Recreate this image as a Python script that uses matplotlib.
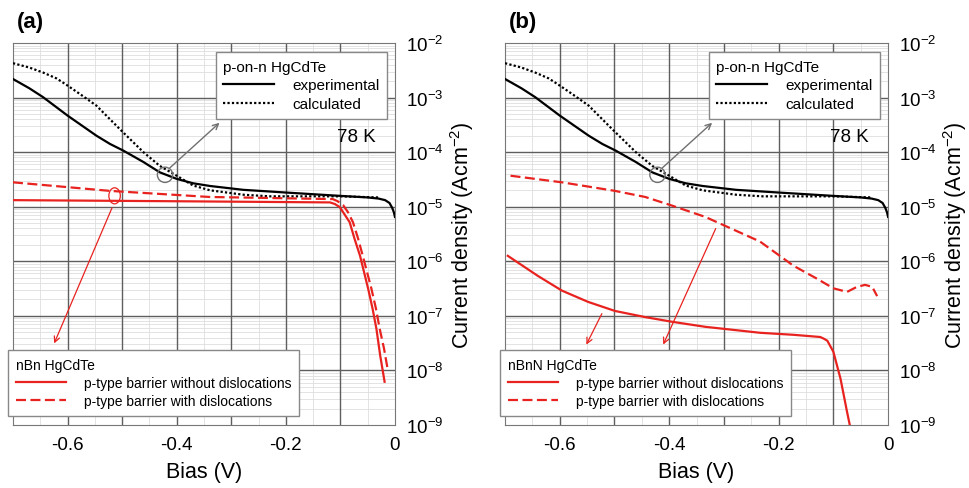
import matplotlib
matplotlib.use("Agg")
import matplotlib.pyplot as plt
from matplotlib.lines import Line2D
from matplotlib.patches import Ellipse
from matplotlib.ticker import FixedLocator, LogLocator, NullFormatter

plt.rcParams["font.family"] = ["Liberation Sans", "DejaVu Sans"]
plt.rcParams["mathtext.fontset"] = "custom"
plt.rcParams["mathtext.rm"] = "Liberation Sans"
plt.rcParams["mathtext.it"] = "Liberation Sans:italic"
plt.rcParams["mathtext.default"] = "regular"
plt.rcParams["axes.unicode_minus"] = False

RED = "#e8231f"
GRID = "#5e5e5e"

# p-on-n HgCdTe (same in both panels)
exp_bias = [-0.7, -0.67, -0.645, -0.6, -0.547, -0.522, -0.498, -0.461, -0.431, -0.4, -0.37,
            -0.339, -0.278, -0.229, -0.2, -0.1, -0.05, -0.03, -0.018, -0.01, -0.005, -0.002, 0.0]
exp_j = [2.19e-3, 1.48e-3, 1.02e-3, 4.68e-4, 2.0e-4, 1.41e-4, 1.07e-4, 6.6e-5, 4.27e-5, 3.24e-5, 2.69e-5,
         2.4e-5, 2.04e-5, 1.9e-5, 1.82e-5, 1.58e-5, 1.48e-5, 1.41e-5, 1.32e-5, 1.17e-5, 9.5e-6, 7.9e-6, 6.5e-6]

calc_bias = [-0.7, -0.67, -0.645, -0.62, -0.6, -0.575, -0.547, -0.504, -0.461, -0.431, -0.4,
             -0.37, -0.339, -0.278, -0.229, -0.1, -0.03]
calc_j = [4.27e-3, 3.55e-3, 2.88e-3, 2.24e-3, 1.66e-3, 1.12e-3, 7.1e-4, 2.63e-4, 1.0e-4, 5.6e-5, 3.7e-5,
          2.45e-5, 2.0e-5, 1.66e-5, 1.55e-5, 1.55e-5, 1.48e-5]

# (a) nBn HgCdTe
a_nodis_bias = [-0.7, -0.4, -0.119, -0.11, -0.101, -0.083, -0.074, -0.064, -0.049, -0.041,
                -0.034, -0.027, -0.019]
a_nodis_j = [1.32e-5, 1.26e-5, 1.2e-5, 1.12e-5, 9.8e-6, 5.2e-6, 2.57e-6, 1.26e-6, 3.1e-7, 1.35e-7,
             5.8e-8, 1.86e-8, 6.2e-9]

a_dis_bias = [-0.7, -0.522, -0.34, -0.114, -0.105, -0.095, -0.086, -0.077, -0.068, -0.059, -0.043,
              -0.035, -0.028, -0.02, -0.013]
a_dis_j = [2.8e-5, 1.95e-5, 1.51e-5, 1.38e-5, 1.26e-5, 1.07e-5, 7.9e-6, 5.2e-6, 2.7e-6, 1.26e-6, 3.1e-7,
           1.38e-7, 5.8e-8, 2.5e-8, 1.0e-8]

# (b) nBnN HgCdTe
b_nodis_bias = [-0.695, -0.64, -0.596, -0.548, -0.499, -0.444, -0.395, -0.334, -0.234, -0.173,
                -0.124, -0.117, -0.111, -0.1, -0.087, -0.075, -0.068]
b_nodis_j = [1.26e-6, 5.4e-7, 2.9e-7, 1.8e-7, 1.23e-7, 9.5e-8, 7.8e-8, 6.3e-8, 4.9e-8, 4.5e-8,
             4.1e-8, 3.8e-8, 3.5e-8, 2.2e-8, 7.1e-9, 1.74e-9, 8e-10]

b_dis_bias = [-0.69, -0.596, -0.499, -0.444, -0.395, -0.334, -0.234, -0.173, -0.13, -0.1,
              -0.075, -0.057, -0.042, -0.029, -0.02]
b_dis_j = [3.7e-5, 2.8e-5, 1.95e-5, 1.51e-5, 1.05e-5, 6.5e-6, 2.3e-6, 8.3e-7, 4.8e-7, 3.2e-7,
           2.75e-7, 3.4e-7, 3.7e-7, 3.4e-7, 2.3e-7]

x_major = [-0.7, -0.6, -0.5, -0.4, -0.3, -0.2, -0.1, 0.0]
x_labels = ["", "-0.6", "", "-0.4", "", "-0.2", "", "0"]
y_major = [1e-9, 1e-8, 1e-7, 1e-6, 1e-5, 1e-4, 1e-3, 1e-2]

panels = [
    ("(a)", "nBn HgCdTe", a_nodis_bias, a_nodis_j, a_dis_bias, a_dis_j),
    ("(b)", "nBnN HgCdTe", b_nodis_bias, b_nodis_j, b_dis_bias, b_dis_j),
]

fig = plt.figure(figsize=(9.69, 4.89), dpi=100)
positions = [[0.0134, 0.1288, 0.3942, 0.7812], [0.5212, 0.1288, 0.3953, 0.7812]]

for i, (tag, red_title, nb, nj, db, dj) in enumerate(panels):
    ax = fig.add_axes(positions[i])
    ax.set_yscale("log")
    ax.set_xlim(-0.7, 0)
    ax.set_ylim(1e-9, 1e-2)

    ax.plot(exp_bias, exp_j, color="black", lw=1.6, zorder=3)
    ax.plot(calc_bias, calc_j, color="black", lw=1.6, ls=(0, (1, 1)), zorder=3)
    ax.plot(nb, nj, color=RED, lw=1.6, zorder=3)
    ax.plot(db, dj, color=RED, lw=1.6, ls=(0, (4.5, 2)), zorder=3)

    ax.set_xticks(x_major)
    ax.set_xticklabels(x_labels)
    ax.set_xticks([x + 0.05 for x in x_major[:-1]], minor=True)
    ax.set_yticks(y_major)
    ax.yaxis.set_minor_locator(LogLocator(base=10, subs=range(2, 10), numticks=20))
    ax.yaxis.set_minor_formatter(NullFormatter())
    ax.grid(which="minor", color="#dedede", lw=0.6)
    ax.set_axisbelow(True)
    # major grid drawn on top of the light minor grid
    for xv in x_major[1:-1]:
        ax.axvline(xv, color=GRID, lw=1.0, zorder=1)
    for yv in y_major[1:-1]:
        ax.axhline(yv, color=GRID, lw=1.0, zorder=1)
    ax.set_xlim(-0.7, 0)
    ax.set_ylim(1e-9, 1e-2)
    for s in ax.spines.values():
        s.set_color("#777777")

    ax.yaxis.tick_right()
    ax.yaxis.set_label_position("right")
    ax.tick_params(which="both", length=0)
    ax.tick_params(axis="x", labelsize=13.5, pad=8)
    ax.tick_params(axis="y", labelsize=13.5, pad=8)
    ax.set_xlabel("Bias (V)", fontsize=15.5, labelpad=6)
    ax.set_ylabel("Current density (Acm$^{-2}$)", fontsize=15.5, labelpad=3)

    ax.text(0.95, 0.754, "78 K", transform=ax.transAxes, fontsize=13.5, ha="right", va="center")

    leg1 = ax.legend([Line2D([], [], color="black", lw=1.6),
                      Line2D([], [], color="black", lw=1.6, ls=(0, (1, 1)))],
                     ["experimental", "calculated"], title="p-on-n HgCdTe",
                     loc="upper right", bbox_to_anchor=(0.979, 0.976), borderaxespad=0,
                     fontsize=11, title_fontsize=11, alignment="left",
                     fancybox=False, edgecolor="#888888", framealpha=1,
                     handlelength=3.3, handletextpad=1.2, borderpad=0.5, labelspacing=0.3)
    ax.add_artist(leg1)
    ax.legend([Line2D([], [], color=RED, lw=1.6),
               Line2D([], [], color=RED, lw=1.6, ls=(0, (4.5, 2)))],
              ["p-type barrier without dislocations", "p-type barrier with dislocations"],
              title=red_title, loc="lower left", bbox_to_anchor=(-0.012, 0.024), borderaxespad=0,
              fontsize=10, title_fontsize=10, alignment="left",
              fancybox=False, edgecolor="#888888", framealpha=1,
              handlelength=3.6, handletextpad=1.3, borderpad=0.55, labelspacing=0.3)

    # grey circle + arrow pointing to the p-on-n legend
    ax.add_patch(Ellipse((0.398, 0.655), 0.04, 0.04, transform=ax.transAxes,
                         fill=False, color="#707070", lw=1, zorder=4))
    ax.annotate("", xy=(0.546, 0.796), xytext=(0.405, 0.668), xycoords="axes fraction",
                arrowprops=dict(arrowstyle="->", color="#707070", lw=1))

    if i == 0:
        ax.add_patch(Ellipse((0.266, 0.6), 0.03, 0.042, transform=ax.transAxes,
                             fill=False, color=RED, lw=0.9, zorder=4))
        ax.annotate("", xy=(0.105, 0.207), xytext=(0.262, 0.575), xycoords="axes fraction",
                    arrowprops=dict(arrowstyle="->", color=RED, lw=0.9))
    else:
        ax.annotate("", xy=(0.209, 0.204), xytext=(0.256, 0.298), xycoords="axes fraction",
                    arrowprops=dict(arrowstyle="->", color=RED, lw=0.9))
        ax.annotate("", xy=(0.410, 0.204), xytext=(0.553, 0.521), xycoords="axes fraction",
                    arrowprops=dict(arrowstyle="->", color=RED, lw=0.9))

    fig.text(positions[i][0] + 0.004, 0.955, tag, fontsize=16, fontweight="bold", va="center")

fig.savefig("out.png", dpi=100)
